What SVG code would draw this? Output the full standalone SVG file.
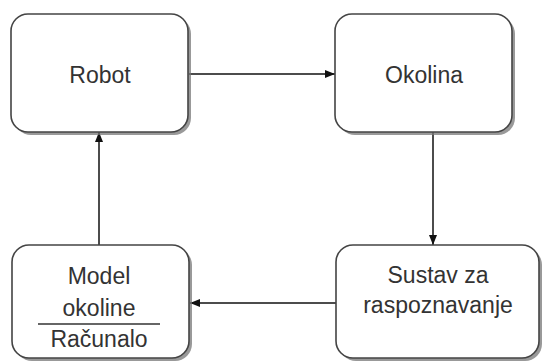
<svg xmlns="http://www.w3.org/2000/svg" width="542" height="361" viewBox="0 0 542 361">
<defs>
<style>
.shadow{fill:#777;opacity:0.75}
.box{fill:#ffffff;stroke:#444;stroke-width:1.6}
.lbl{font-family:"Liberation Sans",Arial,sans-serif;font-size:23px;fill:#333;text-anchor:middle}
.edge{stroke:#111;stroke-width:1.5;fill:none}
</style>
<marker id="arr" viewBox="0 0 10 10" refX="10" refY="5" markerWidth="10" markerHeight="10" markerUnits="userSpaceOnUse" orient="auto">
<path d="M0,1 L10,5 L0,9 Z" fill="#111"/>
</marker>
</defs>
<rect width="542" height="361" fill="#ffffff"/>
<g id="connectors">
<line class="edge" x1="189" y1="74" x2="335" y2="74" marker-end="url(#arr)"/>
<line class="edge" x1="433" y1="132" x2="433" y2="245" marker-end="url(#arr)"/>
<line class="edge" x1="336" y1="303" x2="190" y2="303" marker-end="url(#arr)"/>
<line class="edge" x1="99" y1="245" x2="99" y2="132" marker-end="url(#arr)"/>
</g>
<g id="robot">
<rect class="shadow" x="14" y="17" width="177" height="118" rx="17"/>
<rect class="box" x="11" y="14" width="177" height="118" rx="17"/>
<text class="lbl" x="100" y="83">Robot</text>
</g>
<g id="okolina">
<rect class="shadow" x="338" y="17" width="177" height="118" rx="17"/>
<rect class="box" x="335" y="14" width="177" height="118" rx="17"/>
<text class="lbl" x="424" y="83">Okolina</text>
</g>
<g id="model">
<rect class="shadow" x="15" y="248" width="177" height="113" rx="17"/>
<rect class="box" x="12" y="245" width="177" height="113" rx="17"/>
<text class="lbl" x="99" y="284">Model</text>
<text class="lbl" x="99" y="316">okoline</text>
<line x1="38" y1="324" x2="160" y2="324" stroke="#333" stroke-width="1.5"/>
<text class="lbl" x="99" y="347">Računalo</text>
</g>
<g id="sustav">
<rect class="shadow" x="339" y="248" width="203" height="113" rx="17"/>
<rect class="box" x="336" y="245" width="203" height="113" rx="17"/>
<text class="lbl" x="438" y="283">Sustav za</text>
<text class="lbl" x="438" y="313">raspoznavanje</text>
</g>
</svg>
